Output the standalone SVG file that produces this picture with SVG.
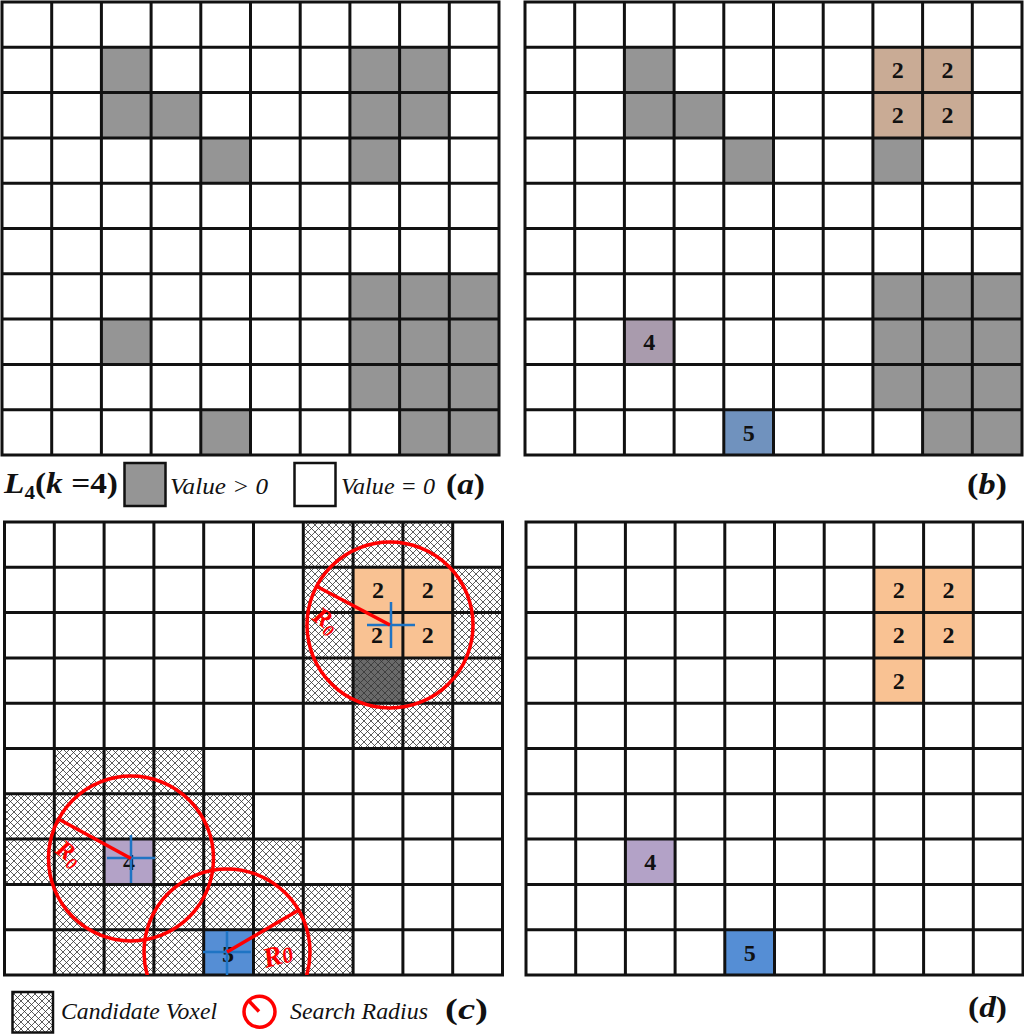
<svg xmlns="http://www.w3.org/2000/svg" width="1024" height="1034" viewBox="0 0 1024 1034">
<style>
.grid{fill:none;stroke:#111;stroke-width:3;stroke-linecap:square}
.gray{fill:#959595}
.tan{fill:#c9ab95}
.pur1{fill:#a99bad}
.blu1{fill:#7092be}
.org{fill:#f9c293}
.pur2{fill:#b3a2c7}
.blu2{fill:#558ed5}
.hatch{fill:url(#xh)}
.num{font-family:"Liberation Serif","Times New Roman",serif;font-weight:bold;font-size:24px;fill:#111;text-anchor:middle}
.red{fill:none;stroke:#ff0000;stroke-width:3.5}
.cross{fill:none;stroke:#1f74c4;stroke-width:2.5}
.rl{font-family:"Liberation Serif","Times New Roman",serif;font-weight:bold;font-style:italic;fill:#ff0000}
.lg{font-family:"Liberation Serif","Times New Roman",serif;font-style:italic;font-size:23px;fill:#111}
.lb{font-family:"Liberation Serif","Times New Roman",serif;font-weight:bold;font-size:30px;fill:#111}
</style>
<defs>
<pattern id="xh" patternUnits="userSpaceOnUse" width="7" height="7">
<rect width="7" height="7" fill="#fff"/>
<path d="M0,0L7,7M7,0L0,7M-1,6L1,8M6,-1L8,1M-1,1L1,-1M6,8L8,6" stroke="#333" stroke-width="0.8" fill="none"/>
</pattern>
<pattern id="xhd" patternUnits="userSpaceOnUse" width="7" height="7">
<rect width="7" height="7" fill="#6a6a6a"/>
<path d="M0,0L7,7M7,0L0,7M-1,6L1,8M6,-1L8,1M-1,1L1,-1M6,8L8,6" stroke="#333" stroke-width="0.8" fill="none"/>
</pattern>
<clipPath id="clipC"><rect x="0" y="500" width="504" height="475"/></clipPath>
</defs>
<rect width="1024" height="1034" fill="#fff"/>

<!-- Panel (a) -->
<g id="panel-a">
<rect class="gray" x="101.4" y="47.3" width="49.7" height="45.3"/>
<rect class="gray" x="349.9" y="47.3" width="99.4" height="90.6"/>
<rect class="gray" x="101.4" y="92.6" width="99.4" height="45.3"/>
<rect class="gray" x="200.8" y="137.9" width="49.7" height="45.3"/>
<rect class="gray" x="349.9" y="137.9" width="49.7" height="45.3"/>
<rect class="gray" x="349.9" y="273.8" width="149.1" height="135.9"/>
<rect class="gray" x="101.4" y="319.1" width="49.7" height="45.3"/>
<rect class="gray" x="200.8" y="409.7" width="49.7" height="45.3"/>
<rect class="gray" x="399.6" y="409.7" width="99.4" height="45.3"/>
<path class="grid" d="M2,2V455M51.7,2V455M101.4,2V455M151.1,2V455M200.8,2V455M250.5,2V455M300.2,2V455M349.9,2V455M399.6,2V455M449.3,2V455M499,2V455M2,2H499M2,47.3H499M2,92.6H499M2,137.9H499M2,183.2H499M2,228.5H499M2,273.8H499M2,319.1H499M2,364.4H499M2,409.7H499M2,455H499"/>
</g>

<g id="legend-a">
<text class="lb" x="4" y="493" textLength="114" lengthAdjust="spacingAndGlyphs"><tspan font-style="italic">L</tspan><tspan font-size="19" dy="6">4</tspan><tspan dy="-6">(</tspan><tspan font-style="italic">k</tspan> =4)</text>
<rect x="124.5" y="463" width="41" height="43" fill="#959595" stroke="#111" stroke-width="2.5"/>
<text class="lg" x="170" y="494" textLength="98" lengthAdjust="spacingAndGlyphs">Value  &gt; 0</text>
<rect x="294.5" y="463" width="41" height="43" fill="#fff" stroke="#111" stroke-width="2.5"/>
<text class="lg" x="341" y="494" textLength="94" lengthAdjust="spacingAndGlyphs">Value = 0</text>
<text class="lb" x="446" y="494" textLength="39" lengthAdjust="spacingAndGlyphs">(<tspan font-style="italic">a</tspan>)</text>
</g>

<!-- Panel (b) -->
<g id="panel-b">
<rect class="gray" x="624.4" y="47.3" width="49.7" height="45.3"/>
<rect class="gray" x="624.4" y="92.6" width="99.4" height="45.3"/>
<rect class="gray" x="723.8" y="137.9" width="49.7" height="45.3"/>
<rect class="gray" x="872.9" y="137.9" width="49.7" height="45.3"/>
<rect class="gray" x="872.9" y="273.8" width="149.1" height="135.9"/>
<rect class="gray" x="922.6" y="409.7" width="99.4" height="45.3"/>
<rect class="tan" x="872.9" y="47.3" width="99.4" height="90.6"/>
<rect class="pur1" x="624.4" y="319.1" width="49.7" height="45.3"/>
<rect class="blu1" x="723.8" y="409.7" width="49.7" height="45.3"/>
<path class="grid" d="M525,2V455M574.7,2V455M624.4,2V455M674.1,2V455M723.8,2V455M773.5,2V455M823.2,2V455M872.9,2V455M922.6,2V455M972.3,2V455M1022,2V455M525,2H1022M525,47.3H1022M525,92.6H1022M525,137.9H1022M525,183.2H1022M525,228.5H1022M525,273.8H1022M525,319.1H1022M525,364.4H1022M525,409.7H1022M525,455H1022"/>
<text class="num" x="897.8" y="78">2</text>
<text class="num" x="947.5" y="78">2</text>
<text class="num" x="897.8" y="123.3">2</text>
<text class="num" x="947.5" y="123.3">2</text>
<text class="num" x="649.3" y="350">4</text>
<text class="num" x="748.7" y="440.5">5</text>
</g>
<text id="label-b" class="lb" x="967" y="494" textLength="40" lengthAdjust="spacingAndGlyphs">(<tspan font-style="italic">b</tspan>)</text>

<!-- Panel (c) -->
<g id="panel-c">
<rect class="hatch" x="303.3" y="522" width="149.4" height="45.3"/>
<rect class="hatch" x="303.3" y="567.3" width="49.8" height="135.9"/>
<rect class="hatch" x="452.7" y="567.3" width="49.8" height="135.9"/>
<rect class="hatch" x="402.9" y="657.9" width="49.8" height="45.3"/>
<rect x="353.1" y="657.9" width="49.8" height="45.3" fill="url(#xhd)"/>
<rect class="hatch" x="353.1" y="703.2" width="99.6" height="45.3"/>
<rect class="hatch" x="54.3" y="748.5" width="149.4" height="45.3"/>
<rect class="hatch" x="4.5" y="793.8" width="249" height="45.3"/>
<rect class="hatch" x="4.5" y="839.1" width="99.6" height="45.3"/>
<rect class="hatch" x="153.9" y="839.1" width="149.4" height="45.3"/>
<rect class="hatch" x="54.3" y="884.4" width="298.8" height="45.3"/>
<rect class="hatch" x="54.3" y="929.7" width="149.4" height="45.3"/>
<rect class="hatch" x="253.5" y="929.7" width="99.6" height="45.3"/>
<rect class="org" x="353.1" y="567.3" width="99.6" height="90.6"/>
<rect class="pur2" x="104.1" y="839.1" width="49.8" height="45.3"/>
<rect class="blu2" x="203.7" y="929.7" width="49.8" height="45.3"/>
<path class="grid" d="M4.5,522V975M54.3,522V975M104.1,522V975M153.9,522V975M203.7,522V975M253.5,522V975M303.3,522V975M353.1,522V975M402.9,522V975M452.7,522V975M502.5,522V975M4.5,522H502.5M4.5,567.3H502.5M4.5,612.6H502.5M4.5,657.9H502.5M4.5,703.2H502.5M4.5,748.5H502.5M4.5,793.8H502.5M4.5,839.1H502.5M4.5,884.4H502.5M4.5,929.7H502.5M4.5,975H502.5"/>
<text class="num" x="378" y="598">2</text>
<text class="num" x="427.8" y="598">2</text>
<text class="num" x="377" y="643.3">2</text>
<text class="num" x="427.8" y="643.3">2</text>
<text class="num" x="129" y="870">4</text>
<text class="num" x="228" y="962">5</text>
</g>

<g id="search-markers">
<path class="cross" d="M367,625H415M391,602V648"/>
<path class="cross" d="M107,858H155M131,835V883"/>
<path class="cross" d="M203,952H251M227,931V975"/>
<circle class="red" cx="390" cy="625" r="83"/>
<path class="red" d="M390,625L316,586"/>
<circle class="red" cx="131" cy="858.5" r="82.5"/>
<path class="red" d="M131,858.5L58.5,819"/>
<g clip-path="url(#clipC)">
<circle class="red" cx="227" cy="952" r="83"/>
</g>
<path class="red" d="M227,952L298,910.5"/>
<text class="rl" font-size="25" transform="translate(311,619) rotate(36)">R<tspan font-size="17" dy="5">0</tspan></text>
<text class="rl" font-size="25" transform="translate(54,852) rotate(36)">R<tspan font-size="17" dy="5">0</tspan></text>
<text class="rl" font-size="28" font-style="normal" transform="translate(266,968) rotate(-16)">R<tspan font-size="22" dy="1">0</tspan></text>
</g>

<g id="legend-c">
<rect x="12.5" y="992" width="40.5" height="40.5" fill="url(#xh)" stroke="#111" stroke-width="2.5"/>
<text class="lg" x="61" y="1019" font-size="24" textLength="156" lengthAdjust="spacingAndGlyphs">Candidate  Voxel</text>
<circle cx="259.5" cy="1011.7" r="15.5" fill="none" stroke="#ff0000" stroke-width="3.5"/>
<path d="M248.5,1000.5L259,1011.5" stroke="#ff0000" stroke-width="3.5"/>
<text class="lg" x="290" y="1019" font-size="24" textLength="138" lengthAdjust="spacingAndGlyphs">Search Radius</text>
<text class="lb" x="445" y="1019" textLength="43" lengthAdjust="spacingAndGlyphs">(<tspan font-style="italic">c</tspan>)</text>
</g>

<!-- Panel (d) -->
<g id="panel-d">
<rect class="org" x="873.9" y="567.3" width="99.4" height="90.6"/>
<rect class="org" x="873.9" y="657.9" width="49.7" height="45.3"/>
<rect class="pur2" x="625.4" y="839.1" width="49.7" height="45.3"/>
<rect class="blu2" x="724.8" y="929.7" width="49.7" height="45.3"/>
<path class="grid" d="M526,522V975M575.7,522V975M625.4,522V975M675.1,522V975M724.8,522V975M774.5,522V975M824.2,522V975M873.9,522V975M923.6,522V975M973.3,522V975M1023,522V975M526,522H1023M526,567.3H1023M526,612.6H1023M526,657.9H1023M526,703.2H1023M526,748.5H1023M526,793.8H1023M526,839.1H1023M526,884.4H1023M526,929.7H1023M526,975H1023"/>
<text class="num" x="898.8" y="598">2</text>
<text class="num" x="948.5" y="598">2</text>
<text class="num" x="898.8" y="643.3">2</text>
<text class="num" x="948.5" y="643.3">2</text>
<text class="num" x="898.8" y="688.6">2</text>
<text class="num" x="650.3" y="870">4</text>
<text class="num" x="749.7" y="960.5">5</text>
</g>
<text id="label-d" class="lb" x="968" y="1017" textLength="39" lengthAdjust="spacingAndGlyphs">(<tspan font-style="italic">d</tspan>)</text>
</svg>
